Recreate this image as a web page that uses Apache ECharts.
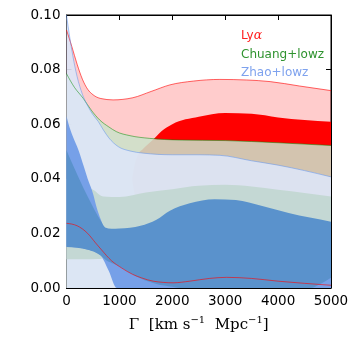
<!DOCTYPE html>
<html><head><meta charset="utf-8">
<script src="https://cdn.jsdelivr.net/npm/echarts@6/dist/echarts.min.js"></script>
<style>html,body{margin:0;padding:0;background:#fff}#c{width:357px;height:343px}</style>
</head><body><div id="c"></div>
<script>
// axis ticks
const xTicks = [0, 1000, 2000, 3000, 4000, 5000];
const yTicks = [0, 0.02, 0.04, 0.06, 0.08, 0.10];
const legendNames = ['Lyα', 'Chuang+lowz', 'Zhao+lowz'];

// Lyα 2σ band (boundary lines)
const lyaUpper = [[0,0.0945],[100,0.0885],[200,0.082],[300,0.0765],[400,0.0728],[500,0.0708],[650,0.0694],[880,0.0689],[1255,0.0697],[1600,0.072],[1955,0.0744],[2400,0.0758],[2900,0.0764],[3400,0.0762],[3850,0.0756],[4400,0.074],[5000,0.0723]];
const lyaLower = [[0,0.0237],[200,0.0228],[400,0.0200],[550,0.0165],[665,0.0139],[850,0.0100],[1045,0.0073],[1250,0.0050],[1420,0.0037],[1640,0.0025],[2015,0.0019],[2330,0.0025],[2700,0.0035],[3025,0.0039],[3500,0.0035],[4000,0.0025],[4500,0.0017],[5000,0.0010]];
// Lyα 1σ region
const lyaCoreUpper = [[1240,0.040],[1280,0.0445],[1350,0.0487],[1450,0.051],[1620,0.054],[1800,0.0575],[2000,0.060],[2500,0.0627],[3000,0.0641],[3500,0.0638],[4000,0.0625],[4500,0.0615],[5000,0.0609]];
const lyaCoreLower = [[1240,0.040],[1280,0.035],[1350,0.031],[1450,0.027],[1620,0.0235],[1800,0.021],[2000,0.019],[2500,0.0172],[3000,0.0163],[3500,0.0157],[4000,0.0153],[4500,0.015],[5000,0.0147]];
// Chuang+lowz
const chuangUpper = [[0,0.0785],[150,0.0735],[315,0.0695],[470,0.0651],[630,0.0615],[800,0.0590],[940,0.0573],[1200,0.0558],[1575,0.0548],[2140,0.0542],[3000,0.0540],[4000,0.0532],[5000,0.0522]];
const chuangLower = [[0,0],[5000,0]];
const chuangCoreUpper = [[0,0.040],[300,0.038],[510,0.0359],[700,0.0335],[1000,0.0333],[1500,0.035],[2000,0.0362],[2500,0.0375],[3000,0.0378],[3500,0.0372],[4000,0.036],[4500,0.0348],[5000,0.0335]];
const chuangCoreLower = [[0,0.0105],[300,0.0105],[600,0.0106],[750,0.011],[1000,0.011],[5000,0.011]];
// Zhao+lowz
const zhaoUpper = [[0,0.100],[60,0.092],[120,0.085],[200,0.0775],[300,0.071],[410,0.0664],[500,0.0635],[600,0.0610],[700,0.0578],[800,0.0550],[977,0.0518],[1200,0.0502],[1450,0.0494],[2000,0.0488],[2500,0.0488],[2900,0.0486],[3500,0.0466],[4000,0.0450],[4500,0.0430],[5000,0.0407]];
const zhaoLower = [[0,0],[5000,0]];
const zhaoCoreUpper = [[0,0.063],[40,0.060],[120,0.0555],[227,0.0505],[320,0.045],[400,0.040],[510,0.034],[570,0.0295],[650,0.025],[750,0.020],[1000,0.015],[5000,0.015]];
const zhaoCoreLower = [[0,0.0152],[200,0.0148],[400,0.0141],[550,0.0131],[650,0.0119],[700,0.0103],[800,0.0062],[950,0],[5000,0]];
// joint overlap region
const jointUpper = [[0,0.0505],[100,0.046],[250,0.0396],[400,0.0335],[530,0.0286],[650,0.0245],[730,0.0222],[850,0.0217],[1000,0.0218],[1200,0.0221],[1400,0.0228],[1700,0.025],[1955,0.0283],[2330,0.031],[2800,0.0325],[3200,0.0322],[3700,0.030],[4200,0.0275],[4600,0.0258],[5000,0.0243]];
const jointLower = [[0,0.0150],[200,0.0147],[400,0.014],[550,0.013],[650,0.0118],[750,0.0102],[900,0.0088],[1010,0.0078],[1200,0.0055],[1400,0.0035],[1700,0.0015],[2000,0.0005],[2200,0],[4600,0],[4800,0.0015],[5000,0.0038]];

// monotone cubic (in x) bezier segments through pixel points
function segments(P) {
  const n = P.length, m = new Array(n);
  if (n < 3) {
    const s = (P[1][1]-P[0][1]) / (P[1][0]-P[0][0]);
    m[0] = s; m[1] = s;
  } else {
    const sign = v => v < 0 ? -1 : v > 0 ? 1 : 0;
    for (let i = 1; i < n-1; i++) {
      const h0 = P[i][0]-P[i-1][0], h1 = P[i+1][0]-P[i][0];
      const s0 = (P[i][1]-P[i-1][1]) / h0, s1 = (P[i+1][1]-P[i][1]) / h1;
      const p = (s0*h1 + s1*h0) / (h0+h1);
      m[i] = (sign(s0)+sign(s1)) * Math.min(Math.abs(s0), Math.abs(s1), 0.5*Math.abs(p)) || 0;
    }
    const hA = P[1][0]-P[0][0], hB = P[n-1][0]-P[n-2][0];
    m[0] = (3*(P[1][1]-P[0][1])/hA - m[1]) / 2;
    m[n-1] = (3*(P[n-1][1]-P[n-2][1])/hB - m[n-2]) / 2;
  }
  const segs = [];
  for (let i = 0; i < n-1; i++) {
    const dx = (P[i+1][0]-P[i][0]) / 3;
    segs.push([P[i], [P[i][0]+dx, P[i][1]+m[i]*dx], [P[i+1][0]-dx, P[i+1][1]-m[i+1]*dx], P[i+1]]);
  }
  return segs;
}
function pathFwd(segs) {
  return segs.map(s => ' C ' + s[1][0] + ' ' + s[1][1] + ' ' + s[2][0] + ' ' + s[2][1] + ' ' + s[3][0] + ' ' + s[3][1]).join('');
}
function pathRev(segs) {
  return segs.slice().reverse().map(s => ' C ' + s[2][0] + ' ' + s[2][1] + ' ' + s[1][0] + ' ' + s[1][1] + ' ' + s[0][0] + ' ' + s[0][1]).join('');
}
function band(name, lower, upper, fill) {
  return {
    type: 'custom', name: name, silent: true, clip: true, data: [[0, 0]],
    renderItem: function (params, api) {
      const U = upper.map(p => api.coord(p));
      const L = lower.map(p => api.coord(p));
      const Ln = L[L.length-1];
      const d = 'M ' + U[0][0] + ' ' + U[0][1] + pathFwd(segments(U)) + ' L ' + Ln[0] + ' ' + Ln[1] + pathRev(segments(L)) + ' Z';
      return { type: 'path', shape: { pathData: d }, style: { fill: fill, stroke: null } };
    }
  };
}
function line(name, pts, stroke) {
  return {
    type: 'custom', name: name, silent: true, clip: true, data: [[0, 0]],
    renderItem: function (params, api) {
      const P = pts.map(p => api.coord(p));
      const d = 'M ' + P[0][0] + ' ' + P[0][1] + pathFwd(segments(P));
      return { type: 'path', shape: { pathData: d }, style: { fill: null, stroke: stroke, lineWidth: 1 } };
    }
  };
}

const axisCommon = {
  axisLine: { show: true, onZero: false, lineStyle: { color: '#000', width: 1 } },
  axisTick: { show: true, inside: true, length: 5, lineStyle: { color: '#000' } },
  splitLine: { show: false }
};
const chart = echarts.init(document.getElementById('c'), null, { renderer: 'canvas' });
chart.setOption({
  animation: false,
  backgroundColor: '#fff',
  grid: { left: 66.5, right: 26, top: 15, bottom: 55, containLabel: false, show: true, borderColor: '#000', borderWidth: 1, backgroundColor: 'transparent' },
  legend: {
    orient: 'vertical', left: 231, top: 24, itemWidth: 0, itemHeight: 12, itemGap: 6.5,
    selectedMode: false,
    textStyle: { fontFamily: 'DejaVu Sans', fontSize: 12, rich: { i: { fontStyle: 'italic', fontFamily: 'DejaVu Serif', fontSize: 12.5, color: '#ff2020' } } },
    formatter: n => n === 'Lyα' ? 'Ly{i|α}' : n,
    data: [
      { name: legendNames[0], icon: 'none', textStyle: { color: '#ff2020' } },
      { name: legendNames[1], icon: 'none', textStyle: { color: '#2f932f' } },
      { name: legendNames[2], icon: 'none', textStyle: { color: '#7ea2ee' } }
    ]
  },
  xAxis: [
    Object.assign({ type: 'value', position: 'bottom', min: xTicks[0], max: xTicks[xTicks.length-1], interval: 1000,
      axisLabel: { color: '#000', fontFamily: 'DejaVu Sans', fontSize: 13.5, margin: 6, formatter: v => String(v) },
      name: '{a|Γ  [km s}{s|−1}{a|  Mpc}{s|−1}{a|]}', nameLocation: 'middle', nameGap: 27,
      nameTextStyle: { rich: {
        a: { fontFamily: 'DejaVu Serif', fontSize: 15, color: '#000', lineHeight: 20 },
        s: { fontFamily: 'DejaVu Serif', fontSize: 10, color: '#000', verticalAlign: 'top', lineHeight: 12 }
      } } }, axisCommon),
    Object.assign({ type: 'value', position: 'top', min: 0, max: 5000, interval: 1000, axisLabel: { show: false } }, axisCommon)
  ],
  yAxis: [
    Object.assign({ type: 'value', position: 'left', min: yTicks[0], max: yTicks[yTicks.length-1], interval: 0.02,
      axisLabel: { color: '#000', fontFamily: 'DejaVu Sans', fontSize: 13.5, margin: 6, formatter: v => v.toFixed(2) } }, axisCommon),
    Object.assign({ type: 'value', position: 'right', min: 0, max: 0.1, interval: 0.02, axisLabel: { show: false } }, axisCommon)
  ],
  series: [
    band('Lyα', lyaLower, lyaUpper, 'rgba(255,0,0,0.2)'),
    band('Lyα', lyaCoreLower, lyaCoreUpper, '#ff0000'),
    band('Chuang+lowz', chuangLower, chuangUpper, 'rgba(205,225,201,0.87)'),
    band('Zhao+lowz', zhaoLower, zhaoUpper, 'rgba(221,229,247,0.9)'),
    band('Chuang+lowz', chuangCoreLower, chuangCoreUpper, '#c4d8d4'),
    band('Zhao+lowz', zhaoCoreLower, zhaoCoreUpper, '#76a0e8'),
    band('Zhao+lowz', jointLower, jointUpper, '#5a92cc'),
    line('Lyα', lyaUpper, 'rgba(255,0,0,0.6)'),
    line('Lyα', lyaLower, 'rgba(255,0,0,0.6)'),
    line('Chuang+lowz', chuangUpper, 'rgba(0,140,0,0.5)'),
    line('Zhao+lowz', zhaoUpper, 'rgba(100,149,237,0.55)')
  ]
});
</script>
</body></html>
